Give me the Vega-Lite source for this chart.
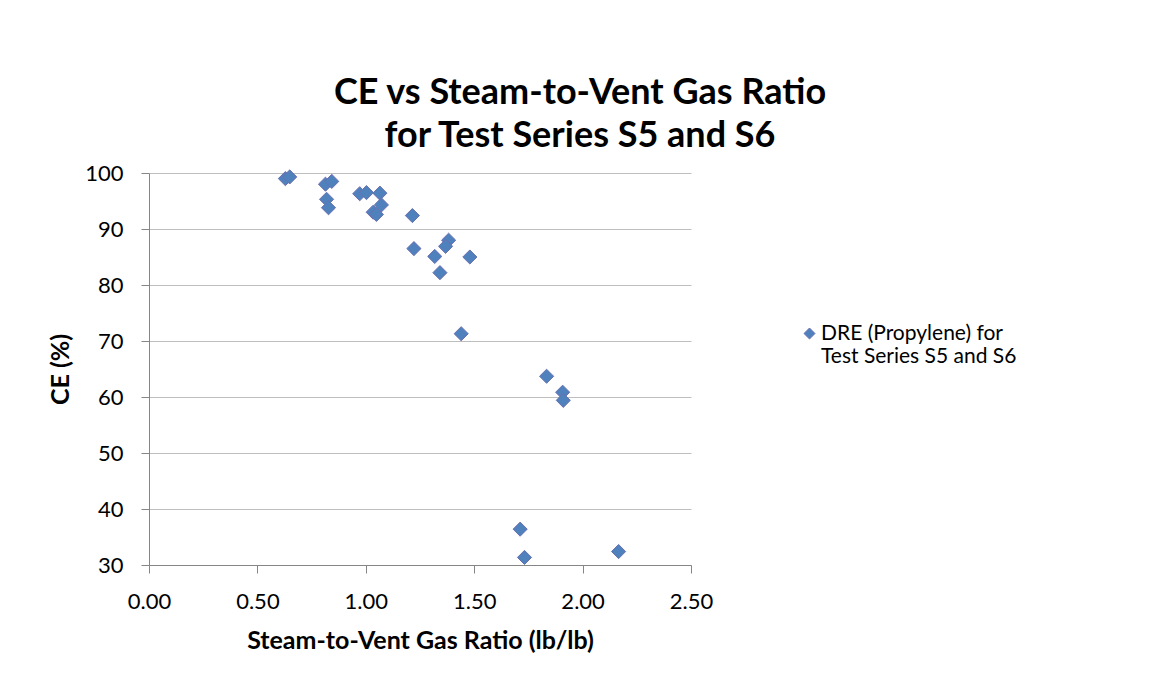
{
  "$schema": "https://vega.github.io/schema/vega-lite/v6.json",
  "autosize": "none",
  "width": 542,
  "height": 392,
  "padding": {"left": 149, "top": 173, "right": 460, "bottom": 123},
  "background": "white",
  "title": {
    "text": ["CE vs Steam-to-Vent Gas Ratio", "for Test Series S5 and S6"],
    "font": "Lato",
    "fontSize": 36,
    "fontWeight": "bold",
    "color": "#000000",
    "anchor": "middle",
    "dx": 160,
    "lineHeight": 43,
    "offset": 7
  },
  "data": {
    "values": [
      {"ratio": 0.629, "ce": 99.0, "series": "DRE (Propylene) for Test Series S5 and S6"},
      {"ratio": 0.649, "ce": 99.3, "series": "DRE (Propylene) for Test Series S5 and S6"},
      {"ratio": 0.814, "ce": 98.0, "series": "DRE (Propylene) for Test Series S5 and S6"},
      {"ratio": 0.843, "ce": 98.5, "series": "DRE (Propylene) for Test Series S5 and S6"},
      {"ratio": 0.819, "ce": 95.3, "series": "DRE (Propylene) for Test Series S5 and S6"},
      {"ratio": 0.828, "ce": 93.8, "series": "DRE (Propylene) for Test Series S5 and S6"},
      {"ratio": 0.972, "ce": 96.3, "series": "DRE (Propylene) for Test Series S5 and S6"},
      {"ratio": 1.003, "ce": 96.5, "series": "DRE (Propylene) for Test Series S5 and S6"},
      {"ratio": 1.065, "ce": 96.4, "series": "DRE (Propylene) for Test Series S5 and S6"},
      {"ratio": 1.072, "ce": 94.3, "series": "DRE (Propylene) for Test Series S5 and S6"},
      {"ratio": 1.034, "ce": 93.0, "series": "DRE (Propylene) for Test Series S5 and S6"},
      {"ratio": 1.049, "ce": 92.6, "series": "DRE (Propylene) for Test Series S5 and S6"},
      {"ratio": 1.215, "ce": 92.4, "series": "DRE (Propylene) for Test Series S5 and S6"},
      {"ratio": 1.222, "ce": 86.5, "series": "DRE (Propylene) for Test Series S5 and S6"},
      {"ratio": 1.382, "ce": 88.0, "series": "DRE (Propylene) for Test Series S5 and S6"},
      {"ratio": 1.368, "ce": 86.9, "series": "DRE (Propylene) for Test Series S5 and S6"},
      {"ratio": 1.318, "ce": 85.1, "series": "DRE (Propylene) for Test Series S5 and S6"},
      {"ratio": 1.48, "ce": 85.0, "series": "DRE (Propylene) for Test Series S5 and S6"},
      {"ratio": 1.342, "ce": 82.2, "series": "DRE (Propylene) for Test Series S5 and S6"},
      {"ratio": 1.44, "ce": 71.3, "series": "DRE (Propylene) for Test Series S5 and S6"},
      {"ratio": 1.834, "ce": 63.7, "series": "DRE (Propylene) for Test Series S5 and S6"},
      {"ratio": 1.908, "ce": 60.85, "series": "DRE (Propylene) for Test Series S5 and S6"},
      {"ratio": 1.911, "ce": 59.4, "series": "DRE (Propylene) for Test Series S5 and S6"},
      {"ratio": 1.712, "ce": 36.4, "series": "DRE (Propylene) for Test Series S5 and S6"},
      {"ratio": 1.732, "ce": 31.35, "series": "DRE (Propylene) for Test Series S5 and S6"},
      {"ratio": 2.166, "ce": 32.4, "series": "DRE (Propylene) for Test Series S5 and S6"}
    ]
  },
  "mark": {"type": "point", "shape": "diamond", "filled": true, "size": 200, "opacity": 1, "stroke": "#6A70B0", "strokeWidth": 1},
  "encoding": {
    "x": {
      "field": "ratio", "type": "quantitative",
      "scale": {"domain": [0, 2.5], "nice": false, "zero": false},
      "axis": {
        "title": "Steam-to-Vent Gas Ratio (lb/lb)",
        "values": [0, 0.5, 1, 1.5, 2, 2.5],
        "format": ".2f",
        "grid": false,
        "labelFlush": false,
        "labelPadding": 18,
        "titlePadding": 16
      }
    },
    "y": {
      "field": "ce", "type": "quantitative",
      "scale": {"domain": [30, 100], "nice": false, "zero": false},
      "axis": {
        "title": "CE (%)",
        "values": [30, 40, 50, 60, 70, 80, 90, 100],
        "grid": true,
        "labelFlush": false,
        "labelPadding": 18,
        "titlePadding": 11
      }
    },
    "color": {
      "field": "series", "type": "nominal",
      "scale": {"range": ["#4F81BD"]},
      "legend": {
        "title": null,
        "orient": "none",
        "legendX": 650,
        "legendY": 150,
        "symbolType": "diamond",
        "symbolSize": 120,
        "symbolStrokeColor": "#6A70B0",
        "symbolStrokeWidth": 1,
        "symbolOpacity": 1,
        "labelFont": "Lato",
        "labelFontSize": 21,
        "labelColor": "#000000",
        "labelLimit": 400,
        "labelBaseline": "middle",
        "labelOffset": 1,
        "labelExpr": "['DRE (Propylene) for', 'Test Series S5 and S6']",
        "labelLineHeight": 25
      }
    }
  },
  "config": {
    "view": {"stroke": null},
    "axis": {
      "labelFont": "Lato",
      "labelFontSize": 22,
      "labelColor": "#000000",
      "titleFont": "Lato",
      "titleFontSize": 25,
      "titleFontWeight": "bold",
      "titleColor": "#000000",
      "domainColor": "#868686",
      "tickColor": "#868686",
      "tickSize": 8,
      "gridColor": "#BEBEBE",
      "gridWidth": 1,
      "domainWidth": 1
    }
  }
}
